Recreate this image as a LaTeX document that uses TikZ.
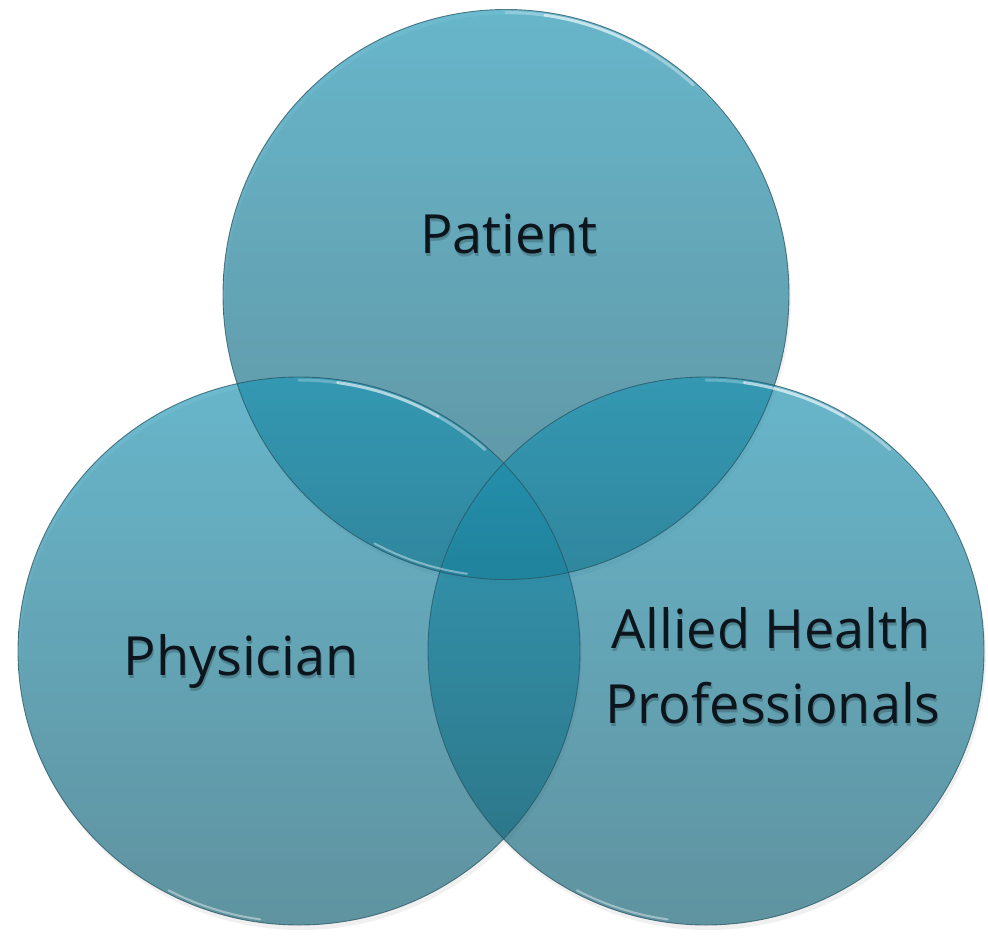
\documentclass[tikz,border=0pt]{standalone}
\usepackage{fontspec}
\setmainfont{Open Sans}
\usetikzlibrary{calc}
\definecolor{ctop}{RGB}{30,150,182}
\definecolor{cbot}{RGB}{18,97,117}
\definecolor{edgec}{RGB}{40,85,100}
\definecolor{txt}{RGB}{12,20,28}
\tikzset{
  venn/.style={top color=ctop, bottom color=cbot, fill opacity=0.65},
  rim/.style={draw=edgec, line width=0.9pt, draw opacity=0.75},
  gleam/.style={white, line width=3pt, line cap=round, opacity=0.5},
  vtext/.style={anchor=base, text=txt, font=\fontsize{54}{75}\selectfont, inner sep=0pt},
  vshadow/.style={anchor=base, text=black, text opacity=0.2, font=\fontsize{54}{75}\selectfont, inner sep=0pt}
}
\begin{document}
\begin{tikzpicture}[x=1pt,y=-1pt]
\useasboundingbox (0,0) rectangle (988,937);
\coordinate (ct) at (506,294.5);
\coordinate (cl) at (299,651);
\coordinate (cr) at (706,651);
% faint drop shadows
\fill[black, opacity=0.06] ($(cl)+(2,5)$) ellipse [x radius=281, y radius=274];
\fill[black, opacity=0.06] ($(cr)+(2,5)$) ellipse [x radius=278, y radius=274];
\fill[black, opacity=0.05] ($(ct)+(2,5)$) ellipse [x radius=283, y radius=285];
% circles
\shade[venn] (ct) ellipse [x radius=283, y radius=285];
\shade[venn] (cl) ellipse [x radius=281, y radius=274];
\shade[venn] (cr) ellipse [x radius=278, y radius=274];
\draw[rim] (ct) ellipse [x radius=283, y radius=285];
\draw[rim] (cl) ellipse [x radius=281, y radius=274];
\draw[rim] (cr) ellipse [x radius=278, y radius=274];
% highlights
\foreach \c/\rx/\ry in {ct/280/282, cl/278/271, cr/275/271}{
  \draw[gleam, opacity=0.25] (\c) ++(-90:{\rx} and {\ry}) arc[start angle=-90, end angle=-82, x radius=\rx, y radius=\ry];
  \draw[gleam, opacity=0.6] (\c) ++(-82:{\rx} and {\ry}) arc[start angle=-82, end angle=-60, x radius=\rx, y radius=\ry];
  \draw[gleam, opacity=0.35] (\c) ++(-60:{\rx} and {\ry}) arc[start angle=-60, end angle=-48, x radius=\rx, y radius=\ry];
  \draw[gleam, opacity=0.4, line width=2pt] (\c) ++(98:{\rx} and {\ry}) arc[start angle=98, end angle=118, x radius=\rx, y radius=\ry];
}
% labels with soft shadows
\node[vshadow] at (510,256) {Patient};
\node[vtext] (patient) at (509,253) {Patient};
\node[vshadow] at (242,678) {Physician};
\node[vtext] (physician) at (241,675) {Physician};
\node[vshadow] at (772,651) {Allied Health};
\node[vtext] (allied) at (771,648) {Allied Health};
\node[vshadow] at (774,726) {Professionals};
\node[vtext] (prof) at (773,723) {Professionals};
\end{tikzpicture}
\end{document}
